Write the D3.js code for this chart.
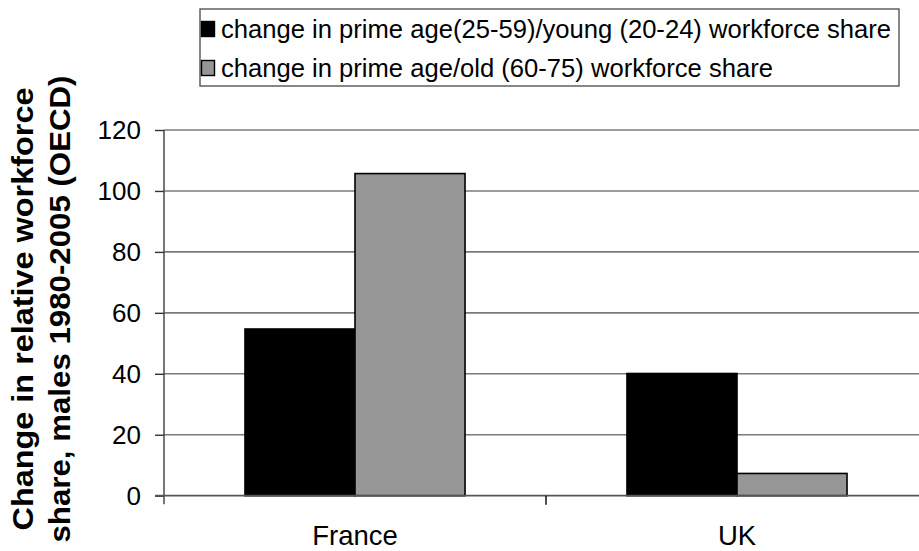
<!DOCTYPE html>
<html><head><meta charset="utf-8">
<script src="https://cdn.jsdelivr.net/npm/d3@7/dist/d3.min.js"></script>
<style>body{margin:0;background:#fff;}svg{display:block;font-family:Arial,"Liberation Sans",sans-serif;}</style>
</head><body>
<svg id="chart" width="919" height="551"></svg>
<script>
const categories = ["France", "UK"];
const seriesNames = ["change in prime age(25-59)/young (20-24) workforce share", "change in prime age/old (60-75) workforce share"];
const youngShare = [54.7, 40.1];
const oldShare = [105.7, 7.3];
const yTicks = [0, 20, 40, 60, 80, 100, 120];
const colors = ["#000000", "#969696"];

(function () {
const svg = d3.select("#chart");
const pLeft = 164, pRight = 928, pTop = 130, pBottom = 495.7;

const x0 = d3.scaleBand().domain(categories).range([pLeft, pRight]).padding(0);
const x1 = d3.scaleBand().domain([0, 1]).range([0, x0.bandwidth()]).paddingInner(0).paddingOuter(0.736);
const y = d3.scaleLinear().domain([0, 120]).range([pBottom, pTop]);

// gridlines
svg.append("g").selectAll("line").data(yTicks.filter(d => d > 0)).join("line")
  .attr("x1", pLeft).attr("x2", 919).attr("y1", d => y(d)).attr("y2", d => y(d))
  .attr("stroke", "#7a7a7a").attr("stroke-width", 1.6);

// bars
const data = categories.map((c, i) => ({c, vals: [youngShare[i], oldShare[i]]}));
const g = svg.append("g");
data.forEach(d => {
  d.vals.forEach((v, j) => {
    g.append("rect")
      .attr("x", x0(d.c) + x1(j)).attr("width", x1.bandwidth())
      .attr("y", y(v)).attr("height", y(0) - y(v))
      .attr("fill", colors[j]).attr("stroke", "#000").attr("stroke-width", 1.6);
  });
});

// y axis
const yAxis = d3.axisLeft(y).tickValues(yTicks).tickSize(9).tickPadding(14);
const ya = svg.append("g").attr("transform", `translate(${pLeft},0)`).call(yAxis);
ya.select(".domain").attr("stroke", "#555").attr("stroke-width", 1.6).attr("d", `M0,${pTop}V${pBottom + 8.5}`);
ya.selectAll(".tick line").attr("stroke", "#333").attr("stroke-width", 1.4);
ya.selectAll(".tick text").attr("font-size", 26).attr("fill", "#000").attr("font-family", "Arial, 'Liberation Sans', sans-serif");

// x axis
svg.append("line").attr("x1", pLeft - 9).attr("x2", 919).attr("y1", pBottom).attr("y2", pBottom)
  .attr("stroke", "#555").attr("stroke-width", 1.8);
svg.append("g").selectAll("line").data(categories.slice(1)).join("line")
  .attr("x1", d => x0(d)).attr("x2", d => x0(d)).attr("y1", pBottom).attr("y2", pBottom + 9)
  .attr("stroke", "#000").attr("stroke-width", 1.4);
svg.append("g").selectAll("text").data(categories).join("text")
  .attr("x", d => x0(d) + (x1(0) + x1(1) + x1.bandwidth()) / 2).attr("y", 545)
  .attr("text-anchor", "middle").attr("font-size", 27.5).text(d => d);

// y title
const yt = svg.append("text").attr("transform", `translate(0,309) rotate(-90)`)
  .attr("text-anchor", "middle").attr("font-size", 29).attr("font-weight", "bold");
yt.append("tspan").attr("x", 0).attr("y", 33).attr("textLength", 443).attr("lengthAdjust", "spacingAndGlyphs").text("Change in relative workforce");
yt.append("tspan").attr("x", 0).attr("y", 70).attr("textLength", 467).attr("lengthAdjust", "spacingAndGlyphs").text("share, males 1980-2005 (OECD)");

// legend
const lg = svg.append("g");
lg.append("rect").attr("x", 200).attr("y", 9).attr("width", 699).attr("height", 77)
  .attr("fill", "#fff").attr("stroke", "#555").attr("stroke-width", 1.4);
const rowY = [38, 77];
seriesNames.forEach((s, i) => {
  lg.append("rect").attr("x", 201.5).attr("y", rowY[i] - 16.5).attr("width", 13).attr("height", 15)
    .attr("fill", colors[i]).attr("stroke", "#000").attr("stroke-width", 1.4);
  lg.append("text").attr("x", 221).attr("y", rowY[i]).attr("font-size", 25.6).text(s);
});
})();
</script>
</body></html>
